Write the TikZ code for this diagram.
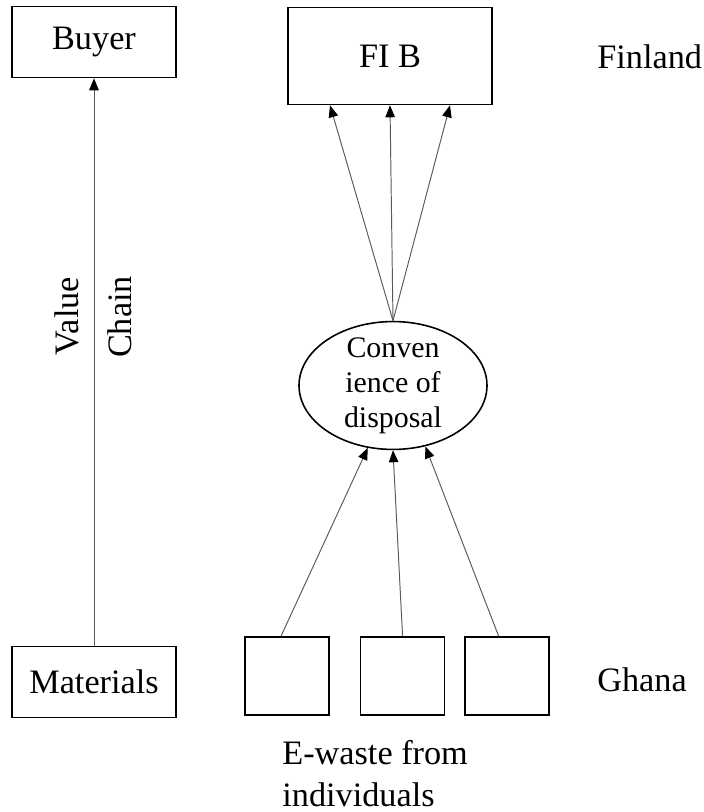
\documentclass[tikz,border=0pt]{standalone}
\usepackage{fontspec}
\setmainfont{Liberation Serif}
\usetikzlibrary{arrows.meta,positioning,calc,shapes.geometric}
\definecolor{LineGray}{RGB}{90,90,90}
\tikzset{
  cbox/.style    ={rectangle, draw=black, line width=.9pt, fill=white,
                   minimum width=3.28cm, minimum height=1.42cm, inner sep=0pt,
                   font=\fontsize{19.5}{23.5}\selectfont},
  sqbox/.style   ={rectangle, draw=black, line width=.9pt,
                   minimum width=1.68cm, minimum height=1.56cm, inner sep=0pt},
  ovalnode/.style={ellipse, draw=black, line width=.9pt, minimum width=3.76cm,
                   inner xsep=0pt, inner ysep=-.6mm, align=center,
                   font=\fontsize{17}{20}\selectfont},
  lbl/.style     ={font=\fontsize{19.5}{24}\selectfont, inner sep=0pt},
  arr/.style     ={-{Triangle[length=2.4mm,width=1.9mm,color=black]}, draw=LineGray, line width=.55pt},
}
\begin{document}
\begin{tikzpicture}[node distance=6mm]
  \useasboundingbox (0,0) rectangle (14.08,16.24);
  \node[cbox] (buyer) at (1.88,15.4) {Buyer};
  \node[cbox] (mat) at (1.88,2.6) {Materials};
  \node[cbox,minimum width=4.08cm,minimum height=1.94cm] (fib) at (7.8,15.12) {FI B};
  \node[ovalnode] (conv) at (7.86,8.53) {Conven\\ience of\\disposal};
  \node[sqbox] (ew1) at (5.74,2.72) {};
  \node[sqbox,right=6mm of ew1] (ew2) {};
  \node[sqbox,right=3.8mm of ew2] (ew3) {};
  \node[lbl,anchor=west] (fin) at (11.94,15.1) {Finland};
  \node[lbl,anchor=west] (gha) at (11.94,2.64) {Ghana};
  \node[lbl,rotate=90] (val) at (1.34,9.92) {Value};
  \node[lbl,rotate=90] (chn) at (2.4,9.9) {Chain};
  \node[lbl,align=left,anchor=north west] (ewlbl) at (5.64,1.44) {E-waste from\\individuals};
  \draw[arr] (mat) -- (buyer);
  \foreach \dx in {-1.2,0,1.2}{\draw[arr] (conv.north) -- ($(fib.south)+(\dx,0)$);}
  \draw[arr] ($(ew1.north)+(-.12,0)$) -- (conv.-112);
  \draw[arr] (ew2.north) -- (conv.-90);
  \draw[arr] ($(ew3.north)+(-.17,0)$) -- (conv.-62);
\end{tikzpicture}
\end{document}
